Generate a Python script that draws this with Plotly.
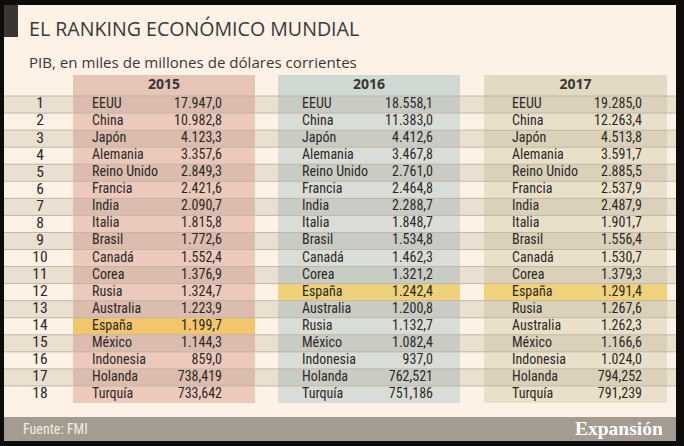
import plotly.graph_objects as go

# ---------------- data ----------------
years = ["2015", "2016", "2017"]
ranks = list(range(1, 19))

countries_2015 = ["EEUU", "China", "Japón", "Alemania", "Reino Unido", "Francia", "India", "Italia",
                  "Brasil", "Canadá", "Corea", "Rusia", "Australia", "España", "México", "Indonesia",
                  "Holanda", "Turquía"]
values_2015 = ["17.947,0", "10.982,8", "4.123,3", "3.357,6", "2.849,3", "2.421,6", "2.090,7", "1.815,8",
               "1.772,6", "1.552,4", "1.376,9", "1.324,7", "1.223,9", "1.199,7", "1.144,3", "859,0",
               "738,419", "733,642"]

countries_2016 = ["EEUU", "China", "Japón", "Alemania", "Reino Unido", "Francia", "India", "Italia",
                  "Brasil", "Canadá", "Corea", "España", "Australia", "Rusia", "México", "Indonesia",
                  "Holanda", "Turquía"]
values_2016 = ["18.558,1", "11.383,0", "4.412,6", "3.467,8", "2.761,0", "2.464,8", "2.288,7", "1.848,7",
               "1.534,8", "1.462,3", "1.321,2", "1.242,4", "1.200,8", "1.132,7", "1.082,4", "937,0",
               "762,521", "751,186"]

countries_2017 = ["EEUU", "China", "Japón", "Alemania", "Reino Unido", "Francia", "India", "Italia",
                  "Brasil", "Canadá", "Corea", "España", "Rusia", "Australia", "México", "Indonesia",
                  "Holanda", "Turquía"]
values_2017 = ["19.285,0", "12.263,4", "4.513,8", "3.591,7", "2.885,5", "2.537,9", "2.487,9", "1.901,7",
               "1.556,4", "1.530,7", "1.379,3", "1.291,4", "1.267,6", "1.262,3", "1.166,6", "1.024,0",
               "794,252", "791,239"]

highlight_country = "España"

title = "EL RANKING ECONÓMICO MUNDIAL"
subtitle = "PIB, en miles de millones de dólares corrientes"
source = "Fuente: FMI"
brand = "Expansión"

# ---------------- layout constants ----------------
W, H = 684, 446
NARROW = "Liberation Sans Narrow, Roboto Condensed, DejaVu Sans Condensed, Arial Narrow, sans-serif"
TXT = "#2b2927"
FRAME = "#0c0c0c"

cols = {
    "2015": dict(left=73, right=255, name_x=92, val_x=222,
                 head="#e6c4b7", light="#ecc9bc", dark="#dcbcae", hl="#f2c76b"),
    "2016": dict(left=278, right=460, name_x=302, val_x=433,
                 head="#d0d8d4", light="#d9ddd7", dark="#c9ccc5", hl="#eed27a"),
    "2017": dict(left=484, right=667, name_x=512, val_x=642,
                 head="#e3dac4", light="#e9e0ca", dark="#dbd1ba", hl="#f0d27b"),
}
table_data = {
    "2015": (countries_2015, values_2015),
    "2016": (countries_2016, values_2016),
    "2017": (countries_2017, values_2017),
}
STRIPE_LIGHT = "#fdf2e5"
STRIPE_DARK = "#ebdfcf"
SEP = "#c4b6a5"
X_LEFT, X_RIGHT = 4, 676
RANK_X = 40

# vertical mapping: plot area from header top (75px) to last row bottom (403px)
TOP_PX, ROW1_PX, BOT_PX = 75, 96, 403
unit = (BOT_PX - ROW1_PX) / len(ranks)
y_top = 0.5 - (ROW1_PX - TOP_PX) / unit
HEAD_Y = (y_top + 0.5) / 2
HEAD_H = 0.5 - y_top


def X(px):
    return px / W


def Y(py):
    return 1 - py / H


fig = go.Figure()

# row stripes
fig.add_trace(go.Bar(
    orientation="h", y=ranks, x=[X_RIGHT - X_LEFT] * len(ranks), base=[X_LEFT] * len(ranks),
    width=[1] * len(ranks),
    marker=dict(color=[STRIPE_DARK if r % 2 else STRIPE_LIGHT for r in ranks], line=dict(width=0)),
    hoverinfo="skip", showlegend=False))

for yr in years:
    c = cols[yr]
    names, vals = table_data[yr]
    # header cell
    fig.add_trace(go.Bar(
        orientation="h", y=[HEAD_Y], x=[c["right"] - c["left"]], base=[c["left"]], width=[HEAD_H],
        marker=dict(color=c["head"], line=dict(width=0)), hoverinfo="skip", showlegend=False))
    # column block
    colors = [c["hl"] if n == highlight_country else (c["dark"] if r % 2 else c["light"])
              for r, n in zip(ranks, names)]
    fig.add_trace(go.Bar(
        orientation="h", y=ranks, x=[c["right"] - c["left"]] * len(ranks),
        base=[c["left"]] * len(ranks), width=[1] * len(ranks),
        marker=dict(color=colors, line=dict(width=0)), hoverinfo="skip", showlegend=False))

# separator lines
sx, sy = [], []
for r in [0] + ranks[:-1]:
    sx += [X_LEFT, X_RIGHT, None]
    sy += [r + 0.5, r + 0.5, None]
fig.add_trace(go.Scatter(x=sx, y=sy, mode="lines", line=dict(color=SEP, width=1),
                         hoverinfo="skip", showlegend=False))

# rank numbers
fig.add_trace(go.Scatter(
    x=[RANK_X] * len(ranks), y=ranks, mode="text", text=[str(r) for r in ranks],
    textposition="middle center", textfont=dict(family=NARROW, size=15.5, color=TXT),
    hoverinfo="skip", showlegend=False))

for yr in years:
    c = cols[yr]
    names, vals = table_data[yr]
    fig.add_trace(go.Scatter(
        x=[(c["left"] + c["right"]) / 2], y=[HEAD_Y], mode="text", text=[yr],
        textposition="middle center",
        textfont=dict(family="Open Sans, Roboto, sans-serif", size=14, color="#3a3633", weight="bold"),
        hoverinfo="skip", showlegend=False))
    fig.add_trace(go.Scatter(
        x=[c["name_x"]] * len(ranks), y=ranks, mode="text", text=names,
        textposition="middle right", textfont=dict(family=NARROW, size=14, color=TXT),
        hoverinfo="skip", showlegend=False))
    fig.add_trace(go.Scatter(
        x=[c["val_x"]] * len(ranks), y=ranks, mode="text", text=vals,
        textposition="middle left", textfont=dict(family=NARROW, size=14, color=TXT),
        hoverinfo="skip", showlegend=False))

shapes = [
    dict(type="rect", xref="paper", yref="paper", x0=X(4), x1=X(676), y0=Y(441), y1=Y(5),
         fillcolor=STRIPE_LIGHT, line=dict(width=0), layer="below"),
    dict(type="rect", xref="paper", yref="paper", x0=X(4), x1=X(676), y0=Y(441), y1=Y(417),
         fillcolor="#a49c90", line=dict(width=0), layer="below"),
    dict(type="rect", xref="paper", yref="paper", x0=X(4), x1=X(18), y0=Y(37), y1=Y(5),
         fillcolor="#3b3632", line=dict(width=0), layer="below"),
]

annotations = [
    dict(text=title, x=X(27), y=Y(29), xref="paper", yref="paper", xanchor="left", yanchor="middle",
         showarrow=False, font=dict(family="Open Sans, Roboto, sans-serif", size=19.6, color="#3a3836")),
    dict(text=subtitle, x=X(27), y=Y(62), xref="paper", yref="paper", xanchor="left", yanchor="middle",
         showarrow=False, font=dict(family="Open Sans, Roboto, sans-serif", size=15.1, color="#3a3836")),
    dict(text=source, x=X(21), y=Y(429), xref="paper", yref="paper", xanchor="left", yanchor="middle",
         showarrow=False, font=dict(family=NARROW, size=14, color="#f3ece3")),
    dict(text=brand, x=X(665), y=Y(428), xref="paper", yref="paper", xanchor="right", yanchor="middle",
         showarrow=False, font=dict(family="Liberation Serif, DejaVu Serif, serif", size=19.5,
                                    color="#ffffff", weight="bold")),
]

fig.update_layout(
    width=W, height=H, margin=dict(l=0, r=0, t=0, b=0),
    paper_bgcolor=FRAME, plot_bgcolor="rgba(0,0,0,0)",
    barmode="overlay", bargap=0,
    shapes=shapes, annotations=annotations, showlegend=False,
    xaxis=dict(range=[X_LEFT, X_RIGHT], domain=[X(X_LEFT), X(X_RIGHT)], visible=False, fixedrange=True),
    yaxis=dict(range=[len(ranks) + 0.5, y_top], domain=[Y(BOT_PX), Y(TOP_PX)], visible=False,
               fixedrange=True),
)

# remove the page's default body margin so the figure fills the window exactly
fig.write_html(
    "out.html",
    config={"displayModeBar": False},
    post_script="document.body.style.margin='0';document.body.style.background='%s';" % FRAME,
)
